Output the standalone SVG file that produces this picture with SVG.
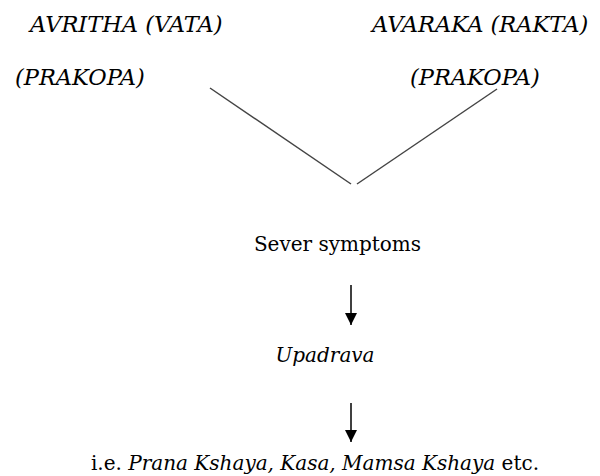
<svg xmlns="http://www.w3.org/2000/svg" width="600" height="476" viewBox="0 0 600 476">
<style>
.t{font-family:'DejaVu Serif',serif;font-size:20px;fill:#000}
.h{font-size:22.5px}
.i{font-style:italic}
.ln{stroke:#444;stroke-width:1.5;fill:none}
.ar{stroke:#000;stroke-width:1.5;fill:none}
</style>
<defs>
<marker id="ah" viewBox="0 0 10 10" refX="10" refY="5" markerWidth="12" markerHeight="12" markerUnits="userSpaceOnUse" orient="auto">
<path d="M0,0 L10,5 L0,10 z" fill="#000"/>
</marker>
</defs>
<rect width="600" height="476" fill="#fff"/>
<g id="avritha"><text class="t h i" x="30" y="32">AVRITHA (VATA)</text><text class="t h i" x="15" y="85">(PRAKOPA)</text></g>
<g id="avaraka"><text class="t h i" x="372" y="32">AVARAKA (RAKTA)</text><text class="t h i" x="410" y="85">(PRAKOPA)</text></g>
<g id="sever"><text class="t" x="337.5" y="251" text-anchor="middle">Sever symptoms</text></g>
<g id="upadrava"><text class="t i" x="325" y="362" text-anchor="middle" font-size="21.5">Upadrava</text></g>
<g id="result"><text class="t" x="315" y="470" text-anchor="middle">i.e. <tspan class="i">Prana Kshaya, Kasa, Mamsa Kshaya</tspan> etc.</text></g>
<g id="connectors">
<line class="ln" x1="210" y1="88" x2="351" y2="184"/>
<line class="ln" x1="497" y1="89" x2="357" y2="184"/>
<line class="ar" x1="351" y1="285" x2="351" y2="325" marker-end="url(#ah)"/>
<line class="ar" x1="351" y1="403" x2="351" y2="442" marker-end="url(#ah)"/>
</g>
</svg>
